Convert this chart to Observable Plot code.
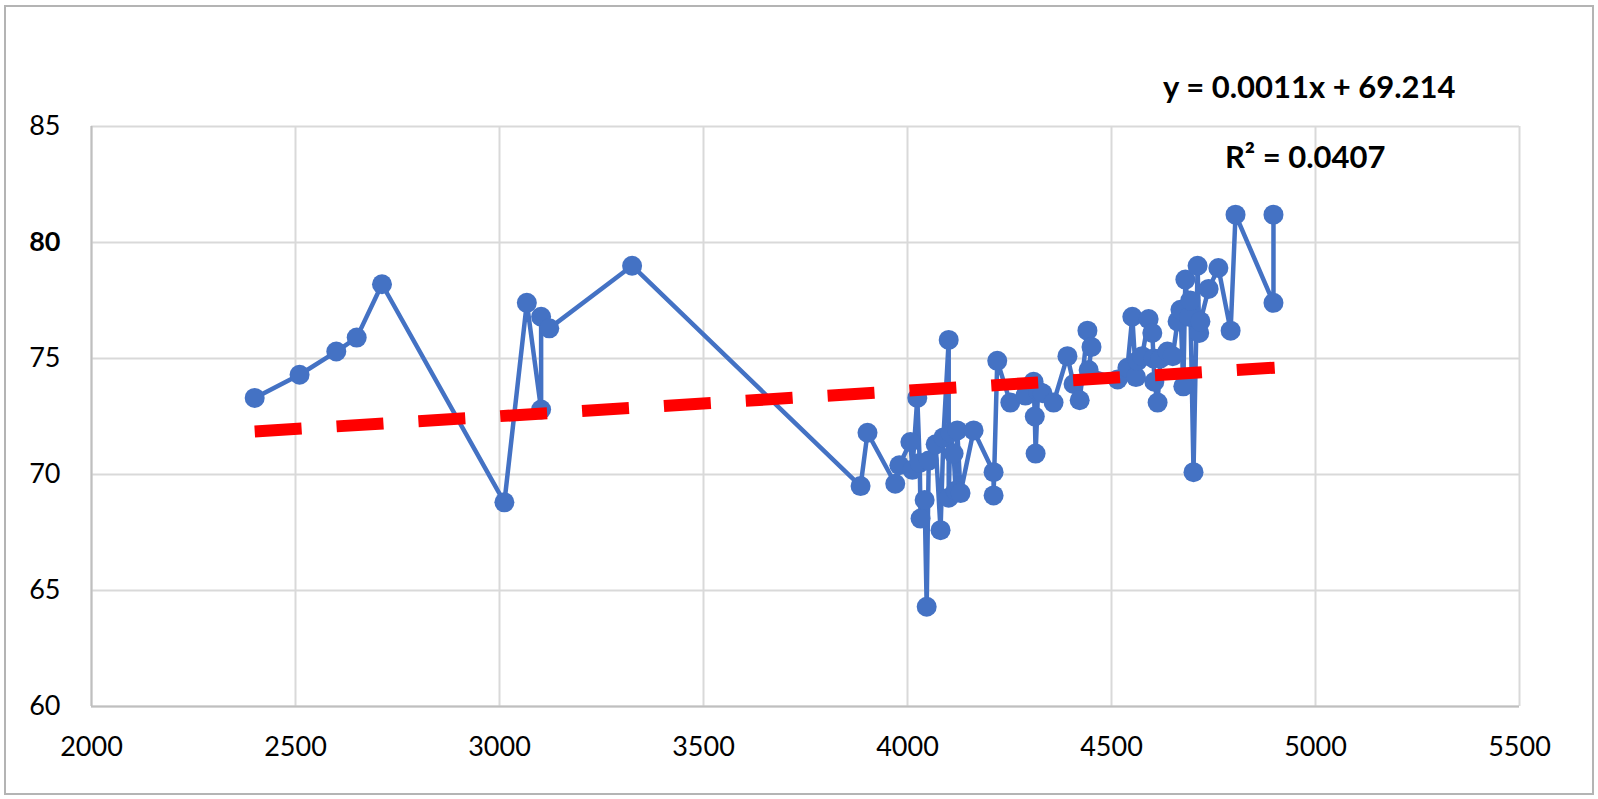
<!DOCTYPE html>
<html>
<head>
<meta charset="utf-8">
<script src="https://cdn.jsdelivr.net/npm/d3@7"></script>
<script src="https://cdn.jsdelivr.net/npm/@observablehq/plot@0.6"></script>
<style>
  html, body { margin: 0; padding: 0; background: #fff; overflow: hidden; }
  #wrap { position: relative; width: 1598px; height: 799px; }
  #border { position: absolute; left: 4px; top: 5px; width: 1586px; height: 786px; border: 2px solid #b4b4b4; pointer-events: none; }
</style>
</head>
<body>
<div id="wrap"><div id="border"></div></div>
<script>
const xValues = [2400, 2510, 2600, 2650, 2712, 3012, 3067, 3102, 3102, 3122, 3325,
  3885, 3902, 3970, 3980, 4007, 4012, 4024, 4030, 4032, 4042, 4047, 4052, 4069, 4081, 4088,
  4101, 4101, 4105, 4113, 4118, 4122, 4130, 4162, 4211, 4211, 4220, 4252, 4289, 4309, 4312,
  4314, 4320, 4331, 4358, 4392, 4407, 4422, 4441, 4451, 4444, 4515, 4539, 4551, 4560, 4564,
  4575, 4591, 4600, 4603, 4605, 4613, 4620, 4637, 4650, 4662, 4669, 4676, 4681, 4690, 4693,
  4701, 4711, 4715, 4718, 4738, 4762, 4792, 4804, 4897, 4897];
const yValues = [73.3, 74.3, 75.3, 75.9, 78.2, 68.8, 77.4, 72.8, 76.8, 76.3, 79.0,
  69.5, 71.8, 69.6, 70.4, 71.4, 70.2, 73.3, 70.5, 68.1, 68.9, 64.3, 70.6, 71.3, 67.6, 71.6,
  75.8, 69.0, 71.8, 70.9, 69.3, 71.9, 69.2, 71.9, 70.1, 69.1, 74.9, 73.1, 73.4, 74.0, 72.5,
  70.9, 73.6, 73.5, 73.1, 75.1, 73.9, 73.2, 76.2, 75.5, 74.5, 74.1, 74.6, 76.8, 74.2, 74.9,
  75.1, 76.7, 76.1, 75.0, 74.0, 73.1, 75.0, 75.3, 75.1, 76.6, 77.1, 73.8, 78.4, 76.8, 77.5,
  70.1, 79.0, 76.1, 76.6, 78.0, 78.9, 76.2, 81.2, 77.4, 81.2];
const xTicks = [2000, 2500, 3000, 3500, 4000, 4500, 5000, 5500];
const yTicksNormal = [60, 65, 70, 75, 85];
const yTicksBold = [80];
const trendSlope = 0.0011;
const trendIntercept = 69.214;
const trendRange = [2400, 4900];
const equationLabel = "y = 0.0011x + 69.214";
const r2Label = "R² = 0.0407";

const points = xValues.map((x, i) => ({x, y: yValues[i]}));
const trend = trendRange.map(x => ({x, y: trendSlope * x + trendIntercept}));

const blue = "#4472C4";
const gridColor = "#d9d9d9";

const chart = Plot.plot({
  width: 1598,
  height: 799,
  marginLeft: 91,
  marginRight: 79,
  marginTop: 126,
  marginBottom: 93,
  style: {fontFamily: "Lato, 'Open Sans', sans-serif", background: "transparent", color: "#000"},
  x: {domain: [2000, 5500], axis: null},
  y: {domain: [60, 85], axis: null},
  marks: [
    Plot.gridX(xTicks, {stroke: gridColor, strokeOpacity: 1, strokeWidth: 2}),
    Plot.gridY(yTicksNormal.concat(yTicksBold), {stroke: gridColor, strokeOpacity: 1, strokeWidth: 2}),
    Plot.ruleY([60], {stroke: "#bfbfbf", strokeWidth: 2}),
    Plot.ruleX([2000], {stroke: "#bfbfbf", strokeWidth: 2}),
    Plot.line(points, {x: "x", y: "y", stroke: blue, strokeWidth: 4.5, curve: "linear"}),
    Plot.dot(points, {x: "x", y: "y", r: 10, fill: blue, stroke: "none"}),
    Plot.line(trend, {x: "x", y: "y", stroke: "#FF0000", strokeWidth: 12, strokeDasharray: "47,35", strokeLinecap: "butt"}),
    Plot.axisX(xTicks, {label: null, tickSize: 0, tickPadding: 30, fontSize: 27, tickFormat: d => String(d)}),
    Plot.axisY(yTicksNormal, {label: null, tickSize: 0, tickPadding: 31, fontSize: 27, tickFormat: d => String(d)}),
    Plot.axisY(yTicksBold, {label: null, tickSize: 0, tickPadding: 31, fontSize: 27, fontWeight: "bold", tickFormat: d => String(d)}),
    Plot.text([equationLabel], {frameAnchor: "top-right", dx: -64, dy: -38, text: d => d, fontSize: 31, fontWeight: "bold", textAnchor: "end", lineAnchor: "middle", fill: "#000"}),
    Plot.text([r2Label], {frameAnchor: "top-right", dx: -134, dy: 32, text: d => d, fontSize: 31, fontWeight: "bold", textAnchor: "end", lineAnchor: "middle", fill: "#000"})
  ]
});
document.getElementById("wrap").prepend(chart);
</script>
</body>
</html>
